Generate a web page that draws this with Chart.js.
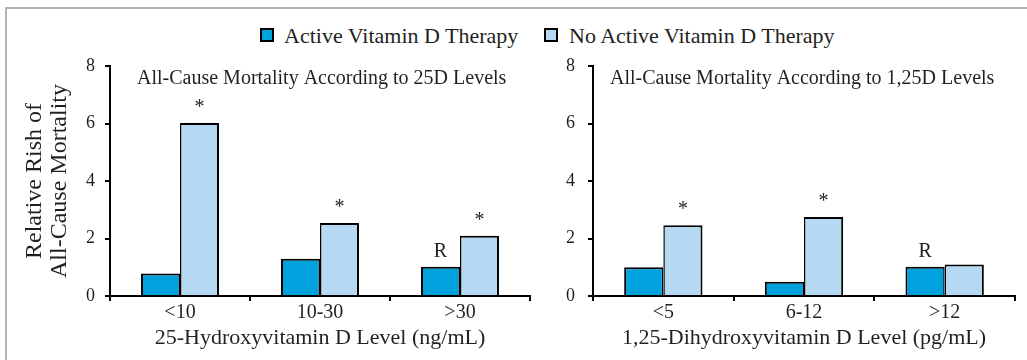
<!DOCTYPE html>
<html>
<head>
<meta charset="utf-8">
<script src="https://cdn.jsdelivr.net/npm/chart.js@4/dist/chart.umd.min.js"></script>
<style>
  html, body { margin: 0; padding: 0; background: #fff; }
  #page { position: relative; width: 1027px; height: 360px; overflow: hidden;
          font-family: "Liberation Serif", "Times New Roman", serif; color: #231f20; }
  #frame { position: absolute; left: 5px; top: 7px; right: 0; bottom: 0;
           border-top: 2px solid #b3b3b3; border-left: 2px solid #b3b3b3; }
  .legend-item { position: absolute; top: 23px; font-size: 22px; line-height: 25px; white-space: nowrap; }
  .legend-box { position: absolute; left: 0; top: 5px; width: 14px; height: 14px;
                box-sizing: border-box; border: 2px solid #000; }
  .legend-text { position: absolute; top: 0; }
  canvas { position: absolute; top: 0; }
  #leftPanel { left: 0; }
  #rightPanel { left: 535px; }
</style>
</head>
<body>
<div id="page">
  <div id="frame"></div>
  <div id="legend"></div>
  <canvas id="leftPanel" width="535" height="360"></canvas>
  <canvas id="rightPanel" width="492" height="360"></canvas>
</div>
<script>
// Series names and fill colours
const seriesNames = ['Active Vitamin D Therapy', 'No Active Vitamin D Therapy'];
const seriesColors = ['#00a2de', '#b5d9f2'];

// Relative risk axis
const yTicks = [0, 2, 4, 6, 8];

// Panel 1: 25-hydroxyvitamin D
const leftTitle = 'All-Cause Mortality According to 25D Levels';
const leftAxisTitle = '25-Hydroxyvitamin D Level (ng/mL)';
const leftCategories = ['<10', '10-30', '>30'];
const leftActive = [0.78, 1.3, 1.02];
const leftNoActive = [6.02, 2.54, 2.1];
const leftActiveMarks = ['', '', 'R'];
const leftNoActiveMarks = ['*', '*', '*'];

// Panel 2: 1,25-dihydroxyvitamin D
const rightTitle = 'All-Cause Mortality According to 1,25D Levels';
const rightAxisTitle = '1,25-Dihydroxyvitamin D Level (pg/mL)';
const rightCategories = ['<5', '6-12', '>12'];
const rightActive = [1.0, 0.5, 1.02];
const rightNoActive = [2.46, 2.75, 1.1];
const rightActiveMarks = ['', '', 'R'];
const rightNoActiveMarks = ['*', '*', ''];

const yAxisTitle = ['Relative Rish of', 'All-Cause Mortality'];

const FONT = '"Liberation Serif", "Times New Roman", serif';
const INK = '#231f20';

// Shared legend
const legendEl = document.getElementById('legend');
const legendLefts = [260, 544];
seriesNames.forEach((name, i) => {
  const item = document.createElement('div');
  item.className = 'legend-item';
  item.style.left = legendLefts[i] + 'px';
  const box = document.createElement('span');
  box.className = 'legend-box';
  box.style.background = seriesColors[i];
  const txt = document.createElement('span');
  txt.className = 'legend-text';
  txt.style.left = (i === 0 ? 24 : 25) + 'px';
  txt.textContent = name;
  item.appendChild(box);
  item.appendChild(txt);
  legendEl.appendChild(item);
});

// Draws the panel heading inside the plot and the significance marks above bars
const panelDecor = {
  id: 'panelDecor',
  afterDatasetsDraw(chart, args, opts) {
    const ctx = chart.ctx;
    const area = chart.chartArea;
    ctx.save();
    ctx.fillStyle = INK;
    ctx.font = '20px ' + FONT;
    ctx.textAlign = 'left';
    ctx.textBaseline = 'alphabetic';
    ctx.fillText(opts.heading, area.left + opts.headingInset, area.top + 18);

    ctx.textAlign = 'center';
    chart.data.datasets.forEach((ds, di) => {
      const meta = chart.getDatasetMeta(di);
      meta.data.forEach((bar, j) => {
        const m = ds.marks[j];
        if (m) ctx.fillText(m, bar.x, bar.y - 10);
      });
    });
    ctx.restore();
  }
};

function buildPanel(id, p) {
  return new Chart(document.getElementById(id), {
    type: 'bar',
    data: {
      labels: p.categories,
      datasets: [
        {
          label: seriesNames[0],
          data: p.active,
          marks: p.activeMarks,
          backgroundColor: seriesColors[0],
          borderColor: '#000',
          borderWidth: { top: 2, left: 2, right: 1.5, bottom: 0 },
          borderSkipped: false,
          categoryPercentage: 0.557,
          barPercentage: 1.0
        },
        {
          label: seriesNames[1],
          data: p.noActive,
          marks: p.noActiveMarks,
          backgroundColor: seriesColors[1],
          borderColor: '#000',
          borderWidth: { top: 2, left: 1.5, right: 2, bottom: 0 },
          borderSkipped: false,
          categoryPercentage: 0.557,
          barPercentage: 1.0
        }
      ]
    },
    options: {
      responsive: false,
      animation: false,
      events: [],
      layout: { padding: { top: 66, right: p.padRight, bottom: 0, left: 0 } },
      plugins: {
        legend: { display: false },
        tooltip: { enabled: false },
        panelDecor: { heading: p.heading, headingInset: p.headingInset }
      },
      scales: {
        x: {
          type: 'category',
          offset: true,
          grid: { offset: true, drawOnChartArea: false, drawTicks: true, tickLength: 5,
                  color: '#000', lineWidth: 2 },
          border: { display: true, color: '#000', width: 2, z: 1 },
          ticks: { color: INK, font: { family: FONT, size: 20, lineHeight: 1.2 }, padding: 0,
                   maxRotation: 0, autoSkip: false },
          title: { display: true, text: p.axisTitle, color: INK,
                   font: { family: FONT, size: 22, lineHeight: 1.2 },
                   padding: { top: 0, bottom: 9 } },
          afterFit(s) { s.height = 64; }
        },
        y: {
          min: 0, max: 8,
          afterBuildTicks(s) { s.ticks = yTicks.map(v => ({ value: v })); },
          grid: { drawOnChartArea: false, drawTicks: true, tickLength: 5, color: '#000', lineWidth: 2 },
          border: { display: true, color: '#000', width: 2, z: 1 },
          ticks: { color: INK, font: { family: FONT, size: 18 }, padding: p.yTickPad },
          title: p.yTitle
            ? { display: true, text: yAxisTitle, color: INK,
                font: { family: FONT, size: 24, lineHeight: 25 / 24 },
                padding: { top: 22, bottom: 0 } }
            : { display: false },
          afterFit(s) { s.width = p.yWidth; }
        }
      }
    },
    plugins: [panelDecor]
  });
}

buildPanel('leftPanel', {
  categories: leftCategories, active: leftActive, noActive: leftNoActive,
  activeMarks: leftActiveMarks, noActiveMarks: leftNoActiveMarks,
  heading: leftTitle, headingInset: 27, axisTitle: leftAxisTitle,
  yTitle: true, yWidth: 110, padRight: 5, yTickPad: 10
});

buildPanel('rightPanel', {
  categories: rightCategories, active: rightActive, noActive: rightNoActive,
  activeMarks: rightActiveMarks, noActiveMarks: rightNoActiveMarks,
  heading: rightTitle, headingInset: 17, axisTitle: rightAxisTitle,
  yTitle: false, yWidth: 58, padRight: 12, yTickPad: 13
});
</script>
</body>
</html>
